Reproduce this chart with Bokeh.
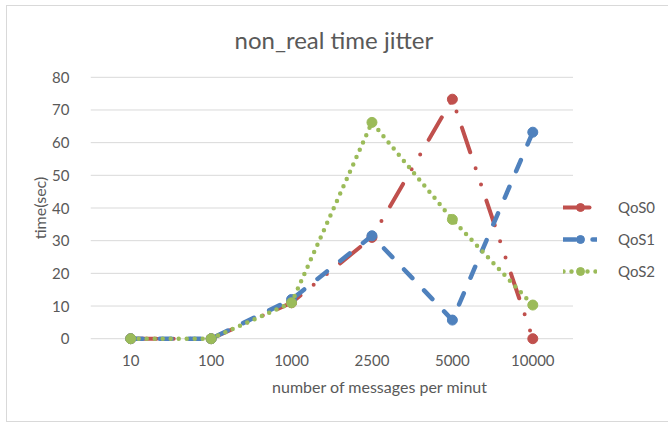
from bokeh.plotting import figure
from bokeh.models import Range1d, FixedTicker, Legend, LegendItem
from bokeh.embed import file_html
from bokeh.resources import INLINE

categories = ["10", "100", "1000", "2500", "5000", "10000"]
qos0 = [0, 0, 11, 31, 73.3, 0]
qos1 = [0, 0, 12, 31.5, 5.7, 63.2]
qos2 = [0, 0, 11, 66.2, 36.5, 10.3]
y_ticks = [0, 10, 20, 30, 40, 50, 60, 70, 80]
series_names = ["QoS0", "QoS1", "QoS2"]

TEXT = "#595959"
FONT = "Lato"

xpos = [i + 0.5 for i in range(len(categories))]

p = figure(width=662, height=417,
           x_range=Range1d(0, 7.2),
           y_range=Range1d(-3, 83),
           output_backend="svg", toolbar_location=None,
           min_border_left=83, min_border_right=0,
           min_border_top=61, min_border_bottom=75)
p.styles = {"margin-left": "6px", "margin-top": "5px",
            "border-left": "1px solid #d9d9d9",
            "border-top": "1px solid #d9d9d9",
            "border-bottom": "1px solid #d9d9d9"}

p.title.text = "non_real time jitter"
p.title.align = "left"
p.title.offset = 144
p.title.text_font = FONT
p.title.text_font_size = "24px"
p.title.text_font_style = "normal"
p.title.text_color = TEXT
p.title.standoff = 28

p.outline_line_color = None
p.xgrid.grid_line_color = None
p.ygrid.grid_line_color = None

p.xaxis.ticker = FixedTicker(ticks=xpos)
p.xaxis.major_label_overrides = {x: c for x, c in zip(xpos, categories)}
p.yaxis.ticker = FixedTicker(ticks=y_ticks)

# horizontal gridlines across the category area only
p.segment(x0=[0] * len(y_ticks), x1=[len(categories)] * len(y_ticks),
          y0=y_ticks, y1=y_ticks, line_color="#d9d9d9", line_width=1)

for ax in (p.xaxis[0], p.yaxis[0]):
    ax.axis_line_color = None
    ax.major_tick_line_color = None
    ax.minor_tick_line_color = None
    ax.major_label_text_font = FONT
    ax.major_label_text_font_size = "15px"
    ax.major_label_text_color = TEXT
    ax.axis_label_text_font = FONT
    ax.axis_label_text_font_size = "16px"
    ax.axis_label_text_font_style = "normal"
    ax.axis_label_text_color = TEXT

p.xaxis.axis_label = "number of messages per minut"
p.yaxis.axis_label = "time(sec)"
p.yaxis.major_label_standoff = 15
p.yaxis.axis_label_standoff = 0
p.xaxis.major_label_standoff = 0
p.xaxis.axis_label_standoff = 8

styles = [
    ("#C0504D", "26 17 0 17 0 17", 4),
    ("#4F81BD", "12 17", 4.5),
    ("#9BBB59", "0 8", 4.5),
]

items = []
for name, vals, (col, dash, w) in zip(series_names, [qos0, qos1, qos2], styles):
    ln = p.line(xpos, vals, line_color=col, line_width=w,
                line_dash=dash, line_cap="round", line_join="round")
    sc = p.scatter(xpos, vals, size=10, marker="circle",
                   fill_color=col, line_color=col)
    items.append(LegendItem(label=name, renderers=[ln, sc]))

legend = Legend(items=items, location=(473, 67), padding=0, margin=0,
                border_line_color=None, background_fill_alpha=0,
                glyph_width=34, glyph_height=20, spacing=12,
                label_standoff=21, label_text_font=FONT,
                label_text_font_size="15px", label_text_color=TEXT)
p.add_layout(legend)

open("out.html", "w").write(file_html(p, INLINE))
